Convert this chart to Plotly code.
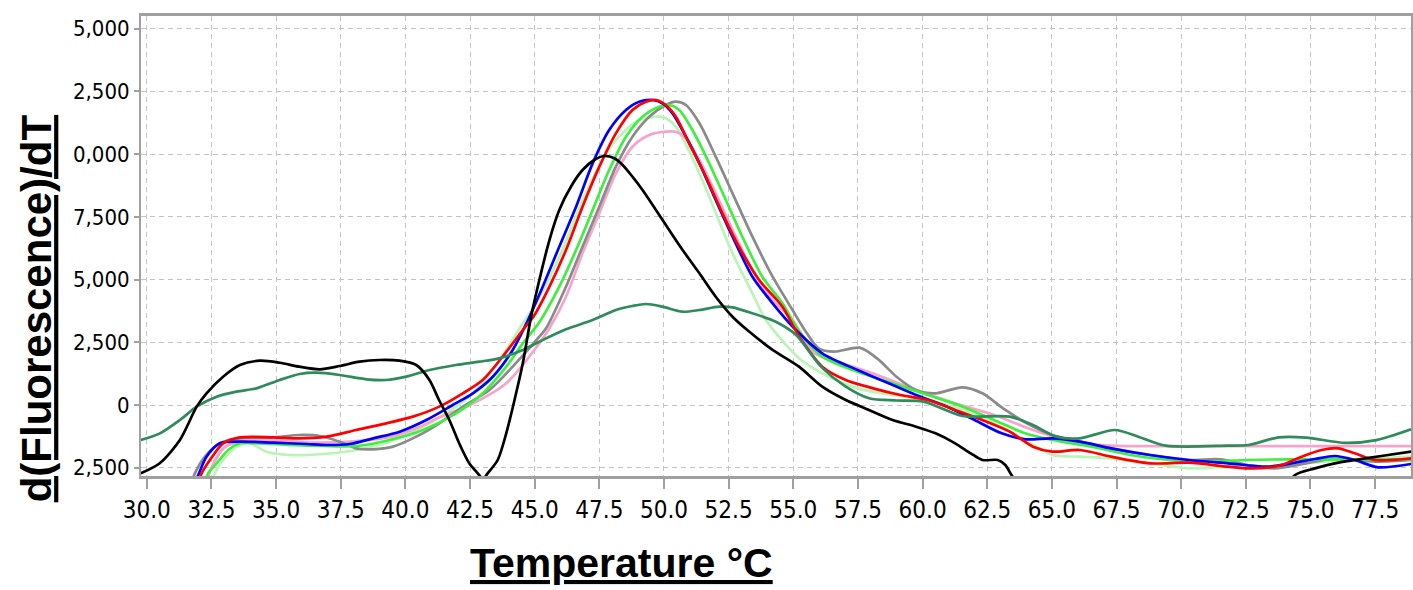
import plotly.graph_objects as go

# ---- axis ticks ----
x_tickvals = [30.0, 32.5, 35.0, 37.5, 40.0, 42.5, 45.0, 47.5, 50.0, 52.5, 55.0, 57.5,
              60.0, 62.5, 65.0, 67.5, 70.0, 72.5, 75.0, 77.5]
x_ticktext = ["30.0", "32.5", "35.0", "37.5", "40.0", "42.5", "45.0", "47.5", "50.0", "52.5",
              "55.0", "57.5", "60.0", "62.5", "65.0", "67.5", "70.0", "72.5", "75.0", "77.5"]
y_tickvals = [15000, 12500, 10000, 7500, 5000, 2500, 0, -2500]
y_ticktext = ["5,000", "2,500", "0,000", "7,500", "5,000", "2,500", "0", "2,500"]

# ---- series (temperature, dF/dT) ----
black_t = [29.77, 30.5, 31.28, 31.93, 32.31, 32.95, 33.6, 34.37, 35.14, 35.9, 36.69, 37.46, 38.23,
           39.0, 39.77, 40.42, 40.93, 41.3, 41.7, 42.08, 42.47, 42.8, 43.0, 43.18, 43.57, 43.9,
           44.22, 44.54, 44.86, 45.18, 45.57, 45.95, 46.4, 46.85, 47.3, 47.69, 48.08, 48.4, 48.78,
           49.17, 49.69, 50.2, 50.72, 51.37, 52.0, 52.65, 53.22, 54.2, 55.22, 56.12, 57.03, 57.93,
           58.84, 59.75, 60.5, 61.26, 61.86, 62.31, 62.91, 63.2, 63.44, 63.8, 74.0, 74.4, 75.17,
           75.94, 76.71, 77.74, 78.89]
black_v = [-2725, -2325, -1395, -66, 465, 1128, 1595, 1766, 1686, 1527, 1422, 1555, 1726,
           1794, 1766, 1595, 997, 199, -598, -1527, -2325, -2725, -2950, -2725, -2193, -1130,
           199, 1661, 3520, 4984, 6578, 7775, 8704, 9369, 9768, 9928, 9835, 9569, 9103,
           8572, 7775, 6977, 6180, 5250, 4318, 3520, 2990, 2200, 1528, 730, 199, -199,
           -598, -864, -1130, -1527, -1926, -2193, -2193, -2392, -2791, -3300, -3300, -2791, -2525,
           -2326, -2193, -2033, -1860]

dkgreen_t = [29.77, 30.51, 31.28, 31.93, 32.7, 33.47, 34.24, 35.14, 35.91, 36.56, 37.46, 38.49,
             39.26, 40.03, 40.93, 41.96, 42.86, 43.63, 44.54, 45.18, 46.21, 47.24, 48.14, 48.78,
             49.3, 49.94, 50.72, 51.37, 52.14, 52.65, 53.42, 54.32, 55.1, 56.1, 57.0, 57.93, 59.0,
             60.04, 61.55, 63.37, 64.27, 65.17, 66.08, 67.44, 68.34, 69.4, 71.81, 72.6, 73.77,
             74.83, 76.34, 77.54, 78.89]
dkgreen_v = [-1395, -1130, -598, -66, 331, 531, 664, 997, 1236, 1289, 1196, 1024,
             997, 1129, 1395, 1595, 1727, 1861, 2193, 2524, 3018, 3389, 3788, 3947,
             4027, 3920, 3720, 3788, 3920, 3895, 3656, 3321, 2800, 1500, 750, 267, 180,
             133, -439, -466, -797, -1263, -1329, -997, -1263, -1621, -1621, -1595, -1289,
             -1300, -1510, -1400, -970]

blue_t = [31.8, 31.99, 32.31, 32.83, 33.6, 34.88, 36.17, 36.95, 37.85, 38.75, 39.78, 40.81, 41.83,
          42.61, 43.38, 44.15, 44.7, 45.31, 45.95, 46.6, 47.24, 47.88, 48.53, 49.04, 49.56, 49.94,
          50.33, 50.85, 51.37, 52.0, 52.65, 53.42, 54.2, 55.0, 56.12, 57.48, 58.84, 59.75, 60.95,
          62.01, 63.06, 63.97, 65.02, 66.08, 67.29, 68.8, 70.3, 71.81, 73.32, 74.27, 75.17, 75.94,
          76.71, 77.61, 78.89]
blue_v = [-3200, -2791, -2060, -1527, -1462, -1501, -1555, -1595, -1555, -1329, -1063, -598, 0,
          465, 1128, 2193, 3300, 4717, 6311, 7906, 9635, 10964, 11762, 12092, 12160, 12029,
          11630, 10697, 9636, 8173, 6710, 5115, 4055, 3100, 2061, 1395, 797, 399, -66,
          -598, -1130, -1369, -1329, -1462, -1727, -1994, -2193, -2325, -2459, -2326, -2153, -2033,
          -2193, -2485, -2352]

red_t = [31.95, 32.12, 32.44, 32.95, 33.6, 34.88, 35.91, 36.95, 38.1, 39.26, 40.29, 41.31, 42.22,
         42.99, 43.76, 44.54, 45.0, 45.57, 46.21, 46.85, 47.5, 48.14, 48.78, 49.3, 49.69, 50.07,
         50.46, 50.97, 51.62, 52.26, 52.9, 53.68, 54.58, 55.22, 56.12, 57.03, 58.09, 59.14, 60.2,
         61.26, 62.31, 63.37, 64.27, 65.02, 66.08, 67.29, 68.8, 70.3, 71.81, 72.6, 73.32, 73.88,
         74.66, 75.43, 76.07, 76.71, 77.48, 78.89]
red_v = [-3200, -2725, -2193, -1527, -1289, -1289, -1329, -1262, -997, -731, -465, -66, 465,
         997, 1927, 2990, 3600, 4717, 6180, 7906, 9502, 10831, 11762, 12092, 12160, 11961,
         11495, 10434, 9103, 7643, 6311, 4984, 3920, 2750, 1528, 997, 664, 399, 199,
         -199, -598, -1063, -1661, -1860, -1794, -2060, -2326, -2299, -2459, -2525, -2500, -2392,
         -2060, -1794, -1727, -1927, -2193, -2126]

green_t = [32.2, 32.37, 32.7, 33.15, 33.6, 34.37, 35.53, 36.81, 38.1, 39.39, 40.68, 41.96, 42.99,
           43.9, 44.54, 45.18, 45.95, 46.6, 47.24, 47.88, 48.53, 49.17, 49.81, 50.2, 50.59, 51.1,
           51.75, 52.39, 53.03, 53.8, 54.58, 55.22, 56.12, 57.48, 58.84, 60.2, 61.55, 62.76,
           63.97, 65.02, 66.53, 68.04, 69.55, 71.06, 72.56, 74.07, 75.58, 77.09, 78.89]
green_v = [-3200, -2725, -2326, -1794, -1527, -1527, -1595, -1635, -1635, -1395, -997, -332, 465,
           1528, 2459, 3300, 4717, 6180, 7775, 9369, 10697, 11495, 11893, 11961, 11762, 10964,
           9636, 8173, 6710, 5115, 4055, 2950, 1926, 1329, 864, 399, -66, -598,
           -1130, -1395, -1661, -1994, -2193, -2259, -2193, -2166, -2166, -2166, -2166]

ltgreen_t = [32.45, 32.63, 32.95, 33.47, 33.98, 34.63, 35.53, 36.81, 38.1, 39.39, 40.68, 41.96,
             42.99, 43.9, 44.54, 45.05, 46.0, 47.0, 48.0, 49.04, 49.81, 50.07, 50.46, 51.37,
             52.65, 53.42, 53.94, 55.22, 56.12, 57.48, 58.84, 60.2, 61.55, 62.76, 63.97, 65.02,
             66.08, 67.29, 68.8, 70.3, 71.81, 73.32, 74.83, 76.34, 77.84, 78.89]
ltgreen_v = [-3200, -2725, -2193, -1661, -1527, -1861, -1994, -1953, -1794, -1462, -864, -66,
             864, 2193, 3257, 4055, 6000, 8500, 10400, 11364, 11495, 11430, 11097, 9236,
             6046, 4452, 3389, 1861, 1262, 664, 399, 199, -199, -731, -1395, -1994,
             -2060, -2126, -2326, -2525, -2459, -2459, -2326, -2193, -2126, -2060]

pink_t = [32.3, 32.5, 33.0, 33.6, 35.0, 36.5, 38.0, 39.5, 40.5, 41.3, 42.5, 43.9, 45.18, 45.57,
          46.21, 46.85, 47.5, 48.14, 48.78, 49.43, 50.07, 50.46, 50.85, 51.37, 52.0, 52.65, 53.42,
          54.2, 54.97, 55.82, 56.73, 58.24, 59.75, 61.26, 62.76, 64.27, 65.78, 67.29, 70.0, 73.0,
          76.0, 78.89]
pink_v = [-3200, -2500, -1700, -1450, -1420, -1500, -1450, -1250, -900, -500, 0, 864, 2459, 3058,
          4318, 6046, 7643, 9236, 10298, 10764, 10897, 10897, 10633, 9768, 8440, 6977, 5382,
          4186, 3389, 2061, 1727, 1196, 598, 66, -399, -997, -1462, -1621, -1640, -1640,
          -1640, -1640]

gray_t = [31.7, 31.86, 32.25, 32.83, 33.6, 34.88, 35.91, 36.69, 37.46, 38.1, 38.75, 39.52, 40.42,
          41.31, 42.22, 43.25, 44.15, 45.18, 45.44, 46.21, 46.85, 47.5, 48.14, 48.78, 49.43, 50.07,
          50.46, 50.85, 51.37, 52.0, 52.65, 53.42, 54.2, 54.97, 55.5, 55.98, 56.58, 57.56, 58.24,
          58.99, 59.75, 60.5, 61.55, 62.31, 63.2, 64.27, 65.02, 66.08, 67.29, 68.8, 70.3, 71.51,
          72.56, 73.6, 74.83, 75.8, 76.71, 77.6, 78.89]
gray_v = [-3200, -2725, -2060, -1527, -1329, -1289, -1196, -1236, -1462, -1727, -1767, -1661, -1262,
          -731, -66, 598, 1528, 2723, 3058, 4717, 6311, 7906, 9502, 10697, 11495, 11961,
          12092, 11961, 11231, 9901, 8440, 6710, 5115, 3788, 2900, 2260, 2126, 2285, 1861,
          1128, 598, 465, 705, 465, -199, -864, -1196, -1462, -1727, -1994, -2193, -2166,
          -2392, -2525, -2326, -2153, -2193, -2259, -2193]

series = [
    ("Light green", ltgreen_t, ltgreen_v, "#b9f5b4"),
    ("Pink", pink_t, pink_v, "#f7a3cb"),
    ("Gray", gray_t, gray_v, "#8a8a8a"),
    ("Green", green_t, green_v, "#3df03d"),
    ("Blue", blue_t, blue_v, "#0000ff"),
    ("Red", red_t, red_v, "#ff0000"),
    ("Dark green", dkgreen_t, dkgreen_v, "#2e8b5a"),
    ("Black", black_t, black_v, "#000000"),
]

fig = go.Figure()
for name, t, v, c in series:
    fig.add_trace(go.Scatter(x=t, y=v, mode="lines", name=name,
                             line=dict(color=c, width=2.7, shape="spline", smoothing=0.8)))

tick_font = dict(family="Liberation Sans Narrow, Arial Narrow, DejaVu Sans Condensed, Liberation Sans, sans-serif",
                 color="#000000")
fig.update_layout(
    width=1413, height=590,
    margin=dict(l=141, r=0, t=16, b=114),
    paper_bgcolor="white", plot_bgcolor="white",
    showlegend=False,
    xaxis=dict(range=[29.776, 78.887], tickmode="array", tickvals=x_tickvals, ticktext=x_ticktext,
               showgrid=True, gridcolor="#c4c4c4", griddash="5px,4px", gridwidth=1,
               showline=True, linecolor="#a0a0a0", linewidth=3, mirror=True,
               ticks="outside", ticklen=10, tickcolor="#a0a0a0", tickwidth=1.5,
               tickfont=dict(size=24, **tick_font), zeroline=False),
    yaxis=dict(range=[-2831, 15510], tickmode="array", tickvals=y_tickvals, ticktext=y_ticktext,
               showgrid=True, gridcolor="#c4c4c4", griddash="5px,4px", gridwidth=1,
               showline=True, linecolor="#a0a0a0", linewidth=2, mirror=True,
               ticks="outside", ticklen=5, tickcolor="#a0a0a0", tickwidth=1.5,
               tickfont=dict(size=22, **tick_font), zeroline=False),
    annotations=[
        dict(text="<b><u>Temperature °C</u></b>", xref="paper", yref="paper",
             x=0.3785, y=-0.19, xanchor="center", yanchor="middle", showarrow=False,
             font=dict(family="Liberation Sans, Arial, sans-serif", size=41, color="black")),
        dict(text="<b><u>d(Fluorescence)/dT</u></b>", xref="paper", yref="paper",
             x=-0.0825, y=0.365, xanchor="center", yanchor="middle", showarrow=False,
             textangle=-90,
             font=dict(family="Liberation Sans, Arial, sans-serif", size=42, color="black")),
    ],
)

fig.write_html("out.html")
